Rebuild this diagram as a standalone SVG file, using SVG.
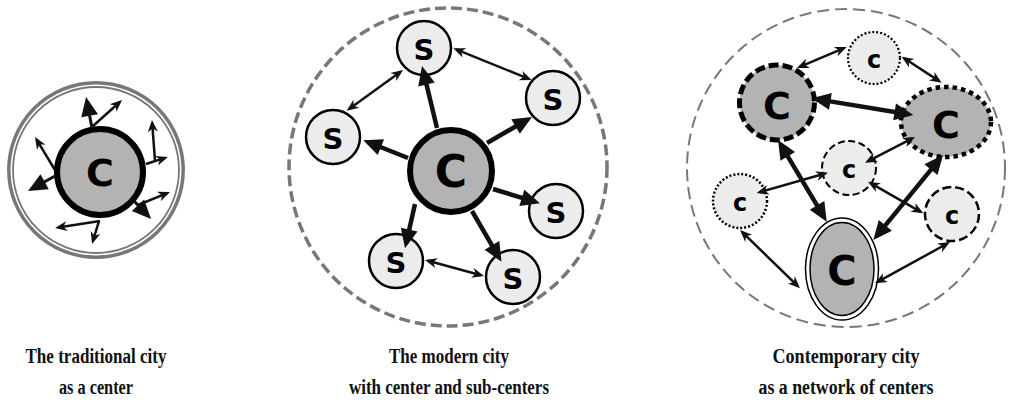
<svg xmlns="http://www.w3.org/2000/svg" width="1012" height="405" viewBox="0 0 1012 405">
<defs>
<marker id="ht" markerUnits="userSpaceOnUse" viewBox="-10 -6 14 12" markerWidth="14" markerHeight="12" refX="0" refY="0" orient="auto-start-reverse" overflow="visible"><path d="M3,0 L-9,-5 L-5.5,0 L-9,5 Z" fill="#111"/></marker>
<marker id="hT" markerUnits="userSpaceOnUse" viewBox="-15 -9 21 18" markerWidth="21" markerHeight="18" refX="0" refY="0" orient="auto-start-reverse" overflow="visible"><path d="M5,0 L-14,-8.5 L-14,8.5 Z" fill="#111"/></marker>
<style>
.thin{stroke:#111;stroke-width:2.5;fill:none;marker-end:url(#ht)}
.thick{stroke:#111;stroke-width:4.5;fill:none;marker-end:url(#hT)}
.mid{stroke:#111;stroke-width:3;fill:none;marker-end:url(#hT)}
.dbl{marker-start:url(#ht)}
.dblT{marker-start:url(#hT)}
.big{fill:#b3b3b3;stroke:#000}
.sm{fill:#ececec;stroke:#000}
.L{font-family:"DejaVu Sans",Verdana,sans-serif;font-weight:bold;text-anchor:middle;fill:#000}
.cap{font-family:"Liberation Serif","Times New Roman",serif;font-weight:bold;font-size:20px;text-anchor:middle;fill:#111}
.ring{fill:none;stroke:#777}
</style>
</defs>

<!-- Panel 1 -->
<g id="p1-ring"><circle class="ring" cx="96" cy="170" r="87.2" stroke-width="3.5"/><circle class="ring" cx="96" cy="170" r="83" stroke-width="1.8"/></g>
<g id="p1-C"><circle class="big" cx="100" cy="172" r="43" stroke-width="6"/><text class="L" x="100" y="186" font-size="38">C</text></g>

<!-- Panel 2 -->
<g id="p2-frame"><circle cx="448" cy="167" r="159" fill="none" stroke="#777" stroke-width="3.5" stroke-dasharray="11 5"/></g>
<g id="p2-C"><circle class="big" cx="451" cy="171" r="41" stroke-width="6"/><text class="L" x="451" y="187" font-size="44">C</text></g>
<g id="p2-S1"><circle class="sm" cx="424" cy="48" r="27" stroke-width="2.5"/><text class="L" x="424" y="59.5" font-size="29">S</text></g>
<g id="p2-S2"><circle class="sm" cx="553" cy="98" r="27" stroke-width="2.5"/><text class="L" x="553" y="109.5" font-size="29">S</text></g>
<g id="p2-S3"><circle class="sm" cx="333" cy="137" r="27" stroke-width="2.5"/><text class="L" x="333" y="148.5" font-size="29">S</text></g>
<g id="p2-S4"><circle class="sm" cx="556" cy="211" r="27" stroke-width="2.5"/><text class="L" x="556" y="222.5" font-size="29">S</text></g>
<g id="p2-S5"><circle class="sm" cx="396" cy="261" r="27" stroke-width="2.5"/><text class="L" x="396" y="272.5" font-size="29">S</text></g>
<g id="p2-S6"><circle class="sm" cx="513" cy="277" r="27" stroke-width="2.5"/><text class="L" x="513" y="288.5" font-size="29">S</text></g>

<!-- Panel 3 -->
<g id="p3-frame"><circle cx="846" cy="168" r="159" fill="none" stroke="#777" stroke-width="2" stroke-dasharray="12 6"/></g>
<g id="p3-CUL"><circle class="big" cx="777" cy="102.5" r="37.5" stroke-width="5" stroke-dasharray="10 4"/><text class="L" x="777" y="118.5" font-size="38">C</text></g>
<g id="p3-ctop"><circle class="sm" cx="874" cy="58" r="26" stroke-width="2.2" stroke-dasharray="2 2"/><text class="L" x="874" y="68" font-size="24">c</text></g>
<g id="p3-CR"><ellipse class="big" cx="946" cy="122" rx="45" ry="35" stroke-width="4.5" stroke-dasharray="4.5 4"/><text class="L" x="946" y="138" font-size="38">C</text></g>
<g id="p3-cmid"><circle class="sm" cx="849" cy="168" r="27" stroke-width="2" stroke-dasharray="7 3.5"/><text class="L" x="849" y="178" font-size="24">c</text></g>
<g id="p3-cleft"><circle class="sm" cx="740" cy="201" r="27" stroke-width="2.5" stroke-dasharray="2 2"/><text class="L" x="740" y="211" font-size="24">c</text></g>
<g id="p3-cright"><circle class="sm" cx="952" cy="214" r="27" stroke-width="2.5" stroke-dasharray="9 4"/><text class="L" x="952" y="224" font-size="24">c</text></g>
<g id="p3-CB"><ellipse cx="842" cy="269" rx="36.5" ry="51" fill="#fff" stroke="#000" stroke-width="1.5"/><ellipse class="big" cx="842" cy="269" rx="32" ry="46.5" stroke-width="1.5"/><text class="L" x="842" y="285" font-size="40">C</text></g>

<!-- Connectors -->
<g id="connectors">
<line class="mid" x1="92" y1="128" x2="87" y2="102"/>
<line class="thin" x1="93" y1="126" x2="119.8" y2="102"/>
<line class="thin" x1="155" y1="161" x2="152.2" y2="123"/>
<line class="thin" x1="146" y1="164" x2="165.1" y2="157.9"/>
<line class="thin" x1="55" y1="170" x2="36.6" y2="139.6"/>
<line class="mid" x1="55" y1="176" x2="32.4" y2="188.6"/>
<line class="mid" x1="134" y1="201" x2="147.6" y2="215.4"/>
<line class="thin" x1="138" y1="205" x2="167.2" y2="193.1"/>
<line class="thin" x1="100" y1="221" x2="58" y2="227.5"/>
<line class="thin" x1="99" y1="221" x2="92.9" y2="241.1"/>

<line class="thick" x1="437" y1="128" x2="423.2" y2="70.9"/>
<line class="thick" x1="408" y1="158" x2="367.9" y2="142"/>
<line class="thick" x1="487" y1="143" x2="527.7" y2="119.5"/>
<line class="thick" x1="493" y1="189" x2="535.2" y2="201.9"/>
<line class="thick" x1="415" y1="204" x2="406.1" y2="243.4"/>
<line class="thick" x1="472" y1="211" x2="499" y2="257.5"/>
<line class="thin dbl" x1="400.6" y1="71.8" x2="349.1" y2="109"/>
<line class="thin dbl" x1="456.1" y1="49.4" x2="528.9" y2="78.9"/>
<line class="thin dbl" x1="427.9" y1="260.8" x2="481.1" y2="275.2"/>

<line class="thin dbl" x1="844" y1="48.2" x2="799.7" y2="66.8"/>
<line class="thin dbl" x1="904.2" y1="58.3" x2="939.2" y2="81.1"/>
<line class="thick dblT" x1="816.6" y1="99.1" x2="908.4" y2="114.2"/>
<line class="thin dbl" x1="912.3" y1="138.4" x2="867.7" y2="161.3"/>
<line class="thin dbl" x1="825.1" y1="173.5" x2="759.6" y2="192.2"/>
<line class="thick dblT" x1="780.6" y1="144.3" x2="824.2" y2="217.4"/>
<line class="thick dblT" x1="939.8" y1="158.9" x2="876.5" y2="236.1"/>
<line class="thin dbl" x1="870.6" y1="183.2" x2="920.7" y2="211.8"/>
<line class="thin dbl" x1="742.2" y1="232.1" x2="797.8" y2="286.2"/>
<line class="thin dbl" x1="947.4" y1="243.5" x2="877.6" y2="281.9"/>
</g>

<!-- Captions -->
<g id="captions">
<text class="cap" x="96" y="363" textLength="141" lengthAdjust="spacingAndGlyphs">The traditional city</text>
<text class="cap" x="96" y="394" textLength="74" lengthAdjust="spacingAndGlyphs">as a center</text>
<text class="cap" x="449" y="363" textLength="120" lengthAdjust="spacingAndGlyphs">The modern city</text>
<text class="cap" x="449" y="394" textLength="200" lengthAdjust="spacingAndGlyphs">with center and sub-centers</text>
<text class="cap" x="846" y="363" textLength="147" lengthAdjust="spacingAndGlyphs">Contemporary city</text>
<text class="cap" x="846" y="394" textLength="175" lengthAdjust="spacingAndGlyphs">as a network of centers</text>
</g>
</svg>
